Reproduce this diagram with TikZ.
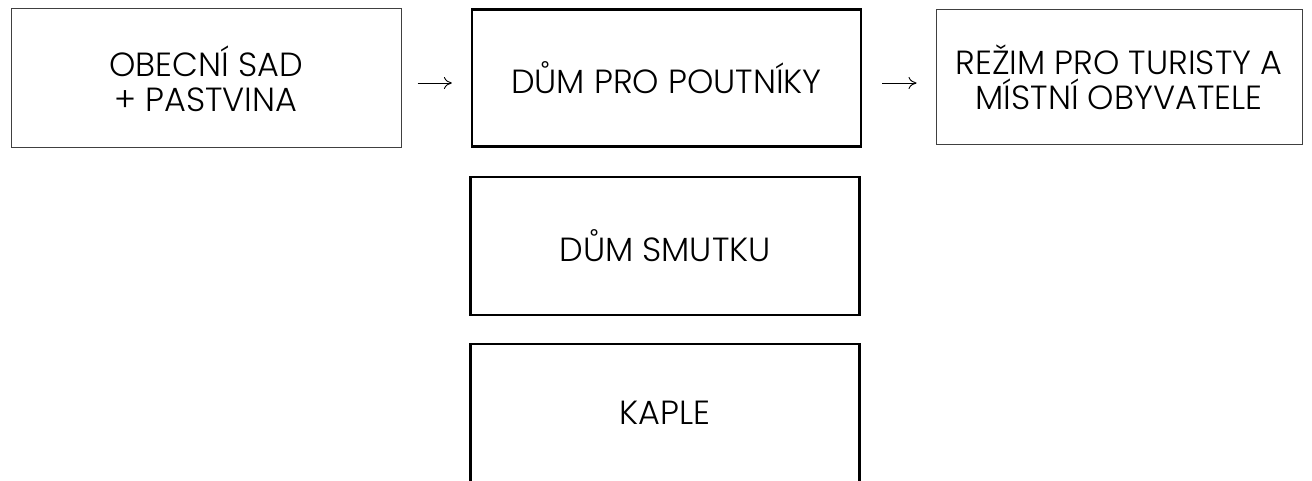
\documentclass[tikz,border=0pt]{standalone}
\usepackage{fontspec}
\setmainfont{Poppins Light}
\usetikzlibrary{arrows.meta}
\begin{document}
\begin{tikzpicture}[x=1pt,y=-1pt,
  thinbox/.style={draw=black!75,line width=1pt,rectangle,inner sep=0pt,align=center,font=\fontsize{33.5}{35}\selectfont},
  thickbox/.style={draw=black,line width=2.2pt,rectangle,inner sep=0pt,align=center,font=\fontsize{33.5}{35}\selectfont},
  flow/.style={-{To[length=8pt,width=12pt]},line width=0.9pt,black}]
\useasboundingbox (0,0) rectangle (1312,481);
\node[thinbox,minimum width=390pt,minimum height=139pt] (sad) at (206,78.5) {OBECNÍ SAD\\+ PASTVINA};
\node[thickbox,minimum width=389pt,minimum height=137pt] (poutnici) at (666.5,78) {DŮM PRO POUTNÍKY};
\node[thinbox,minimum width=366pt,minimum height=135pt] (rezim) at (1119,77.5) {REŽIM PRO TURISTY A\\MÍSTNÍ OBYVATELE};
\node[thickbox,minimum width=389pt,minimum height=138pt] (smutek) at (665,246) {DŮM SMUTKU};
\node[thickbox,minimum width=389pt,minimum height=138pt] (kaple) at (665,413) {KAPLE};
\draw[flow,shorten <=16pt,shorten >=19pt] (sad.east |- 0,83) -- (poutnici.west |- 0,83);
\draw[flow,shorten <=20pt,shorten >=19pt] (poutnici.east |- 0,83) -- (rezim.west |- 0,83);
\end{tikzpicture}
\end{document}
